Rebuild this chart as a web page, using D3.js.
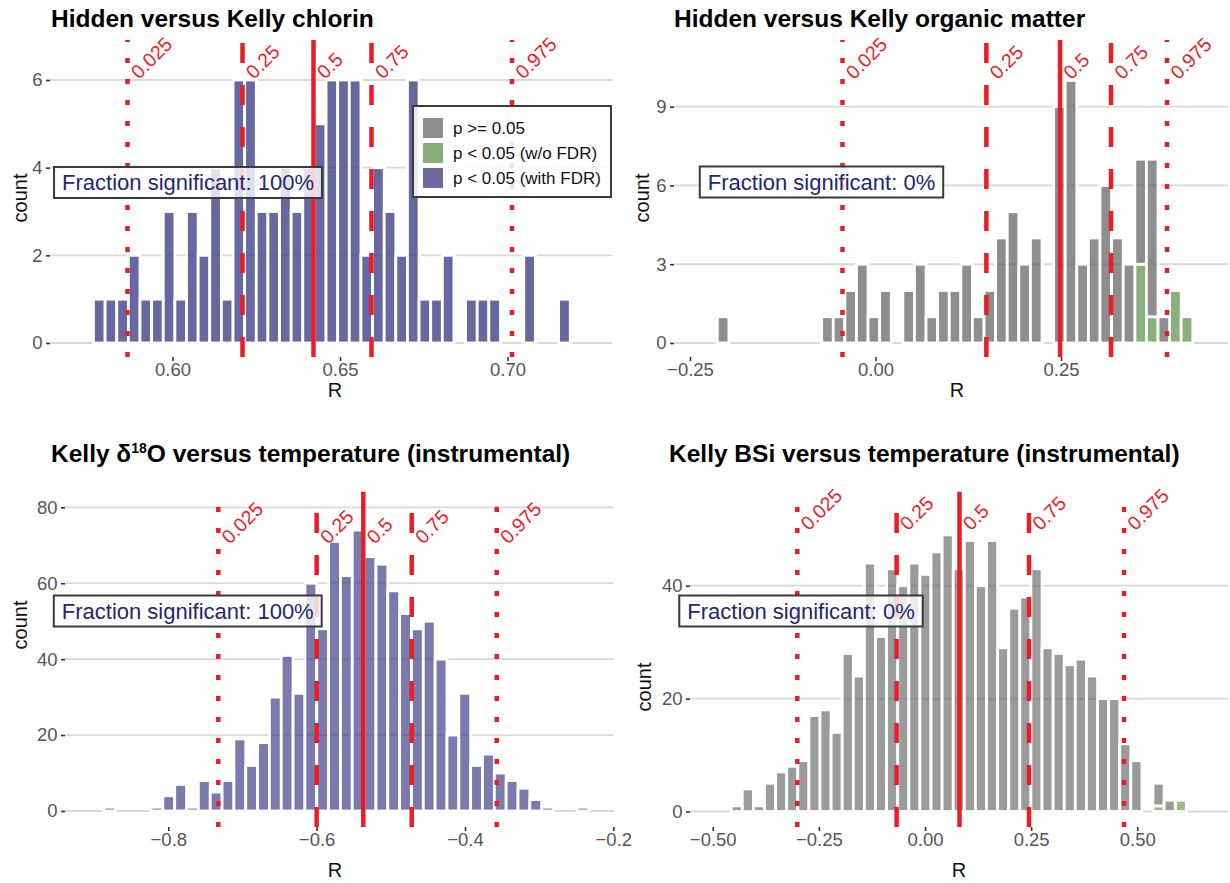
<!DOCTYPE html>
<html>
<head>
<meta charset="utf-8">
<script src="https://cdn.jsdelivr.net/npm/d3@7"></script>
<style>
  body { margin: 0; background: #fff; }
  svg text { font-family: "Liberation Sans", Arial, Helvetica, sans-serif; }
</style>
</head>
<body>
<div id="chart"></div>
<script>
// ---- data (41 bins per histogram) ----
// Hidden versus Kelly chlorin: every bin significant with FDR
let chlorinFdr = [1,1,1,2,1,1,3,1,3,2, 4,1,6,6,3,3,4,3,4,5, 6,6,6,2,4,3,2,6,1,1, 2,0,1,1,1,0,0,2,0,0, 1];
// Hidden versus Kelly organic matter
let organicNs    = [1,0,0,0,0,0,0,0,0,1, 1,2,3,1,2,0,2,3,1,2, 2,3,1,2,4,5,3,4,0,9, 10,3,4,6,4,3,4,6,1,0, 0];
let organicNoFdr = [0,0,0,0,0,0,0,0,0,0, 0,0,0,0,0,0,0,0,0,0, 0,0,0,0,0,0,0,0,0,0, 0,0,0,0,0,0,3,1,0,2, 1];
// Kelly d18O versus temperature
let d18oFdr = [1,0,0,0,1,4,7,1,8,5, 8,19,12,18,30,41,31,60,48,71, 62,74,67,65,58,52,48,50,40,20, 31,12,15,10,8,6,3,1,0,0, 1];
// Kelly BSi versus temperature
let bsiNs    = [1,4,1,5,7,8,9,17,18,14, 28,24,44,31,43,40,44,42,46,49, 43,48,40,48,29,36,38,43,29,28, 26,27,24,20,20,12,9,0,4,2, 0];
let bsiNoFdr = [0,0,0,0,0,0,0,0,0,0, 0,0,0,0,0,0,0,0,0,0, 0,0,0,0,0,0,0,0,0,0, 0,0,0,0,0,0,0,0,1,0, 2];

// bin start and width (R units) per panel
let binStarts = [0.57642, -0.2132, -0.8871, -0.4565];
let binWidths = [0.003471, 0.01563, 0.01596, 0.02615];

// quantile lines
let quantileNames = ["0.025", "0.25", "0.5", "0.75", "0.975"];
let quantileTypes = ["dotted", "dashed", "solid", "dashed", "dotted"];
let chlorinQuantiles = [0.58657, 0.6209, 0.64209, 0.6594, 0.70134];
let organicQuantiles = [-0.0445, 0.1494, 0.2487, 0.3174, 0.3929];
let d18oQuantiles = [-0.7326, -0.6, -0.5371, -0.4718, -0.3572];
let bsiQuantiles = [-0.3008, -0.0669, 0.0813, 0.2450, 0.4689];
// count level where the quantile labels start
let quantileLabelCounts = [6, 10, 70.1, 49.6];

// tick values
let chlorinXTicks = [0.60, 0.65, 0.70];
let organicXTicks = [-0.25, 0, 0.25];
let d18oXTicks = [-0.8, -0.6, -0.4, -0.2];
let bsiXTicks = [-0.5, -0.25, 0, 0.25, 0.5];
let chlorinYTicks = [0, 2, 4, 6];
let organicYTicks = [0, 3, 6, 9];
let d18oYTicks = [0, 20, 40, 60, 80];
let bsiYTicks = [0, 20, 40];

// annotation text and where it sits (R, count)
let fractionTexts = ["Fraction significant: 100%", "Fraction significant: 0%",
                     "Fraction significant: 100%", "Fraction significant: 0%"];
let fractionX = [0.60463, -0.07278, -0.77378, -0.2921];
let fractionY = [3.662, 6.132, 52.68, 35.52];

let legendLabels = ["p >= 0.05", "p < 0.05 (w/o FDR)", "p < 0.05 (with FDR)"];

// colours
let fills = { ns: "#595959", nofdr: "#548a40", fdr: "#42428a" };
let keyColors = ["#8e8e8e", "#87ab79", "#6b6b9e"];
let red = "#ec1c24";
let dashes = { dotted: "5 16", dashed: "20 22", solid: null };

// zero arrays for panels that only have one category
let zeros = chlorinFdr.map(() => 0);
let zeros3 = d18oFdr.map(() => 0);

let panels = [
  { ns: zeros, nofdr: zeros, fdr: chlorinFdr, k: 0, alpha: 0.8,
    q: chlorinQuantiles, xTicks: chlorinXTicks, yTicks: chlorinYTicks, fmt: ".2f",
    left: 50, right: 612, top: 40, bottom: 357,
    xDomain: [0.563433, 0.731194], yDomain: [-0.3194, 6.9126],
    title: [51, 27], rTitle: [335, 397], countTitle: [20, 198] },
  { ns: organicNs, nofdr: organicNoFdr, fdr: zeros, k: 1, alpha: 0.68,
    q: organicQuantiles, xTicks: organicXTicks, yTicks: organicYTicks, fmt: ".2f",
    left: 674, right: 1228, top: 40, bottom: 357,
    xDomain: [-0.27156, 0.47507], yDomain: [-0.5332, 11.540],
    title: [674, 27], rTitle: [957, 397], countTitle: [642, 198] },
  { ns: zeros3, nofdr: zeros3, fdr: d18oFdr, k: 2, alpha: 0.7,
    q: d18oQuantiles, xTicks: d18oXTicks, yTicks: d18oYTicks, fmt: ".1f",
    left: 65, right: 614, top: 491.7, bottom: 827,
    xDomain: [-0.939275, -0.199083], yDomain: [-4.2146, 84.108],
    title: [51, 462], rTitle: [335, 877], countTitle: [20, 625] },
  { ns: bsiNs, nofdr: bsiNoFdr, fdr: zeros3, k: 3, alpha: 0.6,
    q: bsiQuantiles, xTicks: bsiXTicks, yTicks: bsiYTicks, fmt: ".2f",
    left: 690, right: 1228, top: 491.7, bottom: 827,
    xDomain: [-0.553593, 0.713781], yDomain: [-2.7458, 56.652],
    title: [669, 462], rTitle: [959, 877], countTitle: [644, 687] }
];

let svgWidth = 1230;
let svgHeight = 883;

let svg = d3.select("#chart")
    .append("svg")
    .attr("width", svgWidth)
    .attr("height", svgHeight);

panels.forEach(function(p) {
    let x = d3.scaleLinear().domain(p.xDomain).range([p.left, p.right]);
    let y = d3.scaleLinear().domain(p.yDomain).range([p.bottom, p.top]);
    let g = svg.append("g");
    let start = binStarts[p.k];
    let width = binWidths[p.k];

    // horizontal grid
    g.selectAll("line.grid")
        .data(p.yTicks)
        .enter()
        .append("line")
        .attr("class", "grid")
        .attr("x1", p.left).attr("x2", p.right)
        .attr("y1", d => y(d)).attr("y2", d => y(d))
        .attr("stroke", "#d9d9d9")
        .attr("stroke-width", 1.8);

    // stacked histogram bars
    let rows = p.ns.map((d, i) => ({ x0: start + i * width, ns: d, nofdr: p.nofdr[i], fdr: p.fdr[i] }));
    let series = d3.stack().keys(["fdr", "nofdr", "ns"])(rows);

    g.selectAll("g.layer")
        .data(series)
        .enter()
        .append("g")
        .attr("class", "layer")
        .attr("fill", d => fills[d.key])
        .attr("fill-opacity", p.alpha)
        .selectAll("rect")
        .data(d => d)
        .enter()
        .append("rect")
        .attr("x", d => x(d.data.x0))
        .attr("width", d => x(d.data.x0 + width) - x(d.data.x0))
        .attr("y", d => y(d[1]))
        .attr("height", d => y(d[0]) - y(d[1]))
        .attr("stroke", "white")
        .attr("stroke-width", 2.8);

    // quantile lines
    g.selectAll("line.q")
        .data(p.q)
        .enter()
        .append("line")
        .attr("class", "q")
        .attr("x1", d => x(d)).attr("x2", d => x(d))
        .attr("y1", p.bottom).attr("y2", p.top)
        .attr("stroke", red)
        .attr("stroke-width", 4.5)
        .attr("stroke-dasharray", (d, i) => dashes[quantileTypes[i]]);

    let labelY = y(quantileLabelCounts[p.k]);
    g.selectAll("text.q")
        .data(p.q)
        .enter()
        .append("text")
        .attr("class", "q")
        .attr("transform", d => `translate(${x(d) + 11.5}, ${labelY}) rotate(-45)`)
        .attr("fill", red)
        .attr("font-size", 19.5)
        .text((d, i) => quantileNames[i]);

    // axes
    let xAxis = d3.axisBottom(x)
        .tickValues(p.xTicks)
        .tickFormat(d3.format(p.fmt))
        .tickSize(4)
        .tickPadding(1.5);
    let xg = g.append("g")
        .attr("transform", `translate(0, ${p.bottom})`)
        .call(xAxis);

    let yAxis = d3.axisLeft(y)
        .tickValues(p.yTicks)
        .tickSize(4)
        .tickPadding(3.5);
    let yg = g.append("g")
        .attr("transform", `translate(${p.left}, 0)`)
        .call(yAxis);

    [xg, yg].forEach(function(a) {
        a.select(".domain").remove();
        a.attr("font-size", 18.5).attr("font-family", null);
        a.selectAll("line").attr("stroke", "#333").attr("stroke-width", 1.6);
        a.selectAll("text").attr("fill", "#555");
    });

    // axis titles
    g.append("text")
        .attr("x", p.rTitle[0]).attr("y", p.rTitle[1])
        .attr("text-anchor", "middle")
        .attr("font-size", 20)
        .attr("fill", "#111")
        .text("R");

    g.append("text")
        .attr("transform", `translate(${p.countTitle[0]}, ${p.countTitle[1]}) rotate(-90)`)
        .attr("text-anchor", "middle")
        .attr("dy", "0.35em")
        .attr("font-size", 20)
        .attr("fill", "#111")
        .text("count");

    // fraction significant label
    let fg = g.append("g");
    let ft = fg.append("text")
        .attr("x", x(fractionX[p.k]))
        .attr("y", y(fractionY[p.k]))
        .attr("dy", "0.36em")
        .attr("text-anchor", "middle")
        .attr("font-size", 22)
        .attr("fill", "#26266f")
        .text(fractionTexts[p.k]);
    let tw = ft.node().getComputedTextLength();
    fg.insert("rect", "text")
        .attr("x", x(fractionX[p.k]) - tw / 2 - 8)
        .attr("y", y(fractionY[p.k]) - 15.5)
        .attr("width", tw + 16)
        .attr("height", 31)
        .attr("fill", "white")
        .attr("fill-opacity", 0.8)
        .attr("stroke", "#3a3a3a")
        .attr("stroke-width", 2);
});

// titles
let titleG = svg.append("g")
    .attr("font-size", 24.5)
    .attr("font-weight", "bold")
    .attr("fill", "#000");

titleG.append("text").attr("x", panels[0].title[0]).attr("y", panels[0].title[1])
    .text("Hidden versus Kelly chlorin");
titleG.append("text").attr("x", panels[1].title[0]).attr("y", panels[1].title[1])
    .text("Hidden versus Kelly organic matter");
let t3 = titleG.append("text").attr("x", panels[2].title[0]).attr("y", panels[2].title[1]);
t3.append("tspan").text("Kelly \u03b4");
t3.append("tspan").attr("font-size", 14).attr("dy", -9).text("18");
t3.append("tspan").attr("dy", 9).text("O versus temperature (instrumental)");
titleG.append("text").attr("x", panels[3].title[0]).attr("y", panels[3].title[1])
    .text("Kelly BSi versus temperature (instrumental)");

// legend inside the first panel
let legend = svg.append("g")
    .attr("transform", "translate(413, 106)");

legend.append("rect")
    .attr("width", 198)
    .attr("height", 91)
    .attr("fill", "white")
    .attr("fill-opacity", 0.85)
    .attr("stroke", "#3a3a3a")
    .attr("stroke-width", 2);

let items = legend.selectAll("g.item")
    .data(legendLabels)
    .enter()
    .append("g")
    .attr("class", "item")
    .attr("transform", (d, i) => `translate(10, ${12 + i * 25})`);

items.append("rect")
    .attr("width", 20)
    .attr("height", 20)
    .attr("fill", (d, i) => keyColors[i]);

items.append("text")
    .attr("x", 30)
    .attr("y", 10)
    .attr("dy", "0.36em")
    .attr("font-size", 17)
    .attr("fill", "#111")
    .text(d => d);
</script>
</body>
</html>
